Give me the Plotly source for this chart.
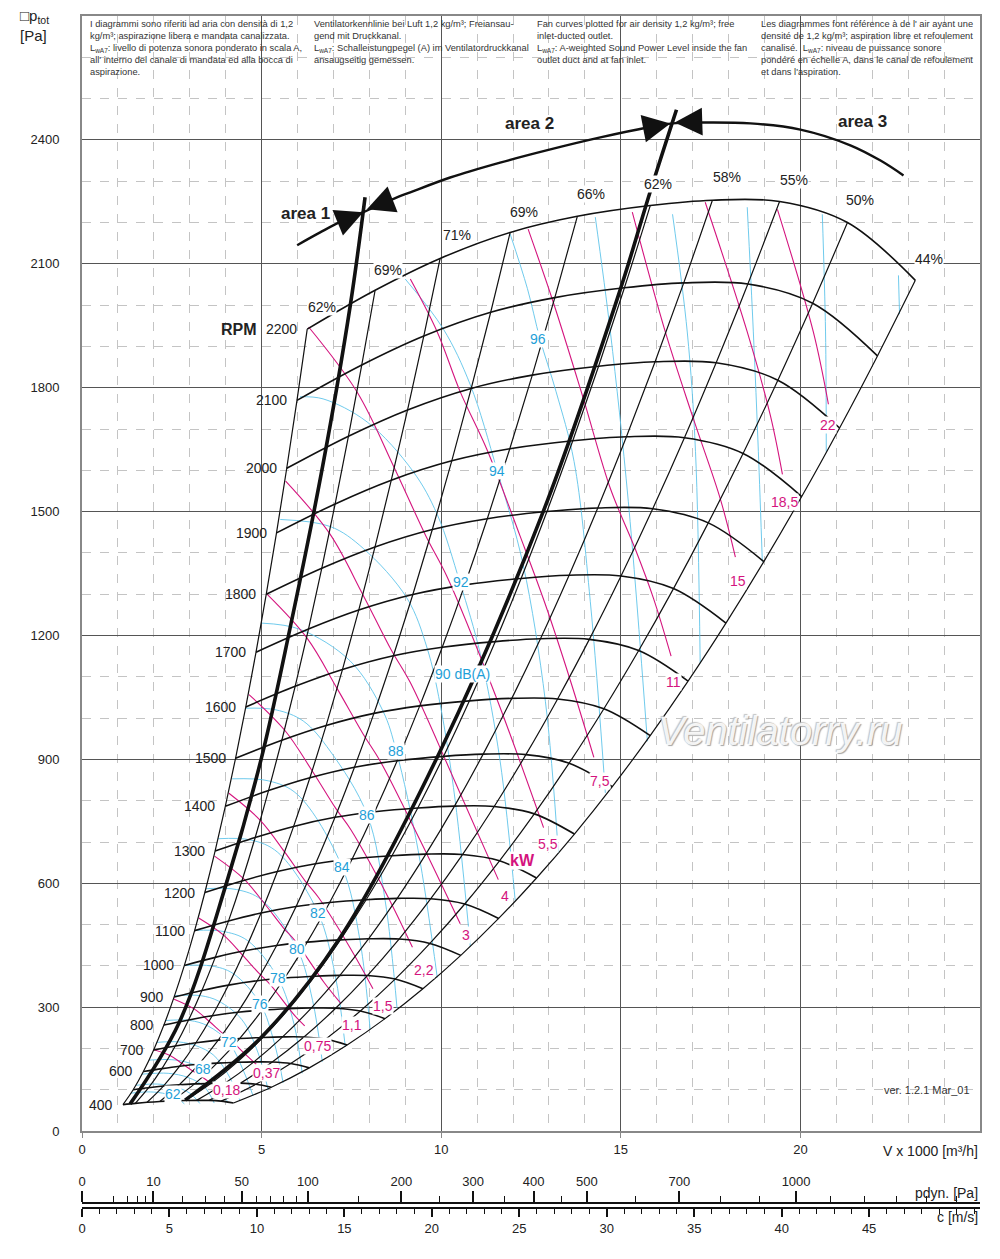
import math
import plotly.graph_objects as go

# ---- fan characteristic at 2200 RPM, read where it meets the efficiency lines
base_rpm = 2200
base_V = [6.27, 8.16, 9.97, 11.92, 13.79, 15.82, 17.55, 19.42, 21.31, 23.20]
base_p = [1942, 2036, 2113, 2176, 2215, 2241, 2254, 2251, 2200, 2060]
rpm_list = [400, 500, 600, 700, 800, 900, 1000, 1100, 1200, 1300, 1400, 1500,
            1600, 1700, 1800, 1900, 2000, 2100, 2200]
rpm_unlabelled = [500]

eff_text = ['62%', '69%', '71%', '69%', '66%', '62%', '58%', '55%', '50%', '44%']
eff_lab_V = [6.68, 8.52, 10.44, 12.31, 14.18, 16.04, 17.96, 19.81, 21.67, 23.57]
eff_lab_p = [1995, 2085, 2169, 2225, 2269, 2293, 2309, 2304, 2254, 2112]

# ---- absorbed power lines [kW]
kw_text = ['0,18', '0,37', '0,75', '1,1', '1,5', '2,2', '3', '4', '5,5', '7,5', '11', '15', '18,5', '22']
kw_V = [
    [2.0, 2.45, 2.78, 3.06, 3.3, 3.55],
    [2.55, 3.12, 3.54, 3.9, 4.13, 4.5, 4.85],
    [3.25, 3.95, 4.47, 4.93, 5.23, 5.93, 6.2],
    [3.69, 4.49, 5.09, 5.6, 5.94, 6.74, 7.2],
    [4.09, 4.97, 5.64, 6.21, 6.59, 7.47, 8.1],
    [4.65, 5.65, 6.41, 7.06, 7.49, 8.49, 9.2],
    [5.15, 6.27, 7.1, 7.83, 8.3, 9.42, 10.53],
    [5.67, 6.9, 7.82, 8.61, 9.14, 10.36, 11.59],
    [6.31, 7.67, 8.69, 9.58, 10.16, 11.52, 12.85],
    [9.14, 9.89, 10.53, 11.27, 12.2, 12.9, 13.6, 14.25],
    [12.42, 13.12, 13.96, 14.71, 15.4, 15.91, 16.4],
    [15.32, 16.24, 17.02, 17.77, 18.19],
    [17.35, 18.52, 19.16, 19.5],
    [19.36, 20.36, 20.78],
]
kw_p = [
    [197, 183, 164, 147, 134, 118],
    [320, 296, 266, 238, 222, 190, 162],
    [516, 474, 426, 382, 356, 279, 255],
    [666, 612, 550, 493, 460, 360, 310],
    [818, 752, 676, 606, 565, 443, 345],
    [1057, 970, 872, 782, 729, 572, 445],
    [1300, 1193, 1072, 961, 896, 703, 502],
    [1574, 1446, 1299, 1165, 1086, 851, 609],
    [1947, 1788, 1607, 1440, 1343, 1053, 735],
    [2063, 1935, 1790, 1651, 1440, 1275, 1090, 905],
    [2184, 2007, 1773, 1556, 1410, 1290, 1150],
    [2225, 1935, 1725, 1531, 1390],
    [2249, 1935, 1734, 1590],
    [2232, 1935, 1760],
]
kw_lab_V = [4.01, 5.13, 6.57, 7.52, 8.38, 9.53, 10.70, 11.78, 12.98, 14.43, 16.46, 18.27, 19.55, 20.78]
kw_lab_p = [99, 140, 205, 256, 304, 389, 476, 570, 696, 848, 1087, 1331, 1524, 1710]

# ---- sound power lines LwA [dB(A)], 62 ... 106 in 2 dB steps
db_V = [
    [1.36, 1.9, 2.35, 2.65, 2.85],
    [1.5, 2.1, 2.6, 3.0, 3.28],
    [1.67, 2.4, 2.95, 3.4, 3.68],
    [1.87, 2.5, 2.95, 3.37, 3.75, 4.07],
    [2.09, 2.7, 3.2, 3.65, 4.05, 4.4],
    [2.34, 3.0, 3.5, 4.09, 4.5, 4.76],
    [2.59, 3.3, 3.8, 4.45, 4.9, 5.18],
    [2.84, 3.6, 4.2, 4.96, 5.35, 5.6],
    [3.15, 3.9, 4.6, 5.46, 5.9, 6.13],
    [3.45, 4.3, 5.0, 5.99, 6.42, 6.69],
    [3.79, 4.7, 5.45, 6.57, 7.05, 7.33],
    [4.18, 5.2, 6.0, 7.24, 7.74, 8.02],
    [4.54, 5.4, 6.16, 6.91, 7.94, 8.44, 8.77],
    [5.01, 6.07, 7.47, 8.38, 8.75, 9.36, 9.89],
    [5.52, 6.91, 7.83, 9.05, 9.61, 9.97, 10.39, 10.81],
    [6.07, 6.71, 7.94, 9.22, 9.89, 10.53, 11.09, 11.64, 12.06],
    [9.0, 10.06, 10.81, 11.56, 12.28, 12.9, 13.26],
    [11.92, 12.4, 12.75, 13.2, 13.7, 14.15, 14.57],
    [14.29, 14.71, 15.21, 15.74],
    [16.44, 16.85, 17.08, 17.21],
    [18.52, 18.69, 18.83, 18.94],
    [20.61, 20.7, 20.72],
    [22.73, 22.76],
]
db_p = [
    [92, 95, 90, 80, 66],
    [111, 114, 107, 92, 67],
    [138, 140, 130, 108, 68],
    [172, 173, 166, 150, 115, 68],
    [215, 216, 206, 185, 140, 74],
    [268, 268, 255, 215, 145, 86],
    [328, 328, 315, 270, 190, 100],
    [401, 400, 382, 309, 215, 117],
    [486, 484, 462, 370, 260, 140],
    [587, 585, 560, 442, 316, 168],
    [708, 705, 675, 529, 377, 204],
    [853, 848, 815, 640, 461, 247],
    [1024, 1020, 993, 920, 766, 558, 298],
    [1230, 1215, 1138, 1017, 920, 679, 372],
    [1481, 1464, 1411, 1290, 1169, 1034, 800, 447],
    [1778, 1773, 1717, 1597, 1493, 1326, 1155, 896, 558],
    [2063, 1942, 1807, 1599, 1372, 1041, 674],
    [2172, 2040, 1918, 1790, 1621, 1283, 819],
    [2213, 1935, 1524, 944],
    [2220, 1935, 1645, 1133],
    [2237, 1935, 1645, 1379],
    [2220, 1935, 1645],
    [2072, 1978],
]
db_text = ['62', '68', '72', '76', '78', '80', '82', '84', '86', '88', '90 dB(A)', '92', '94', '96']
db_lab_V = [2.53, 3.37, 4.09, 4.96, 5.46, 5.99, 6.57, 7.24, 7.94, 8.75, 10.58, 10.56, 11.56, 12.70]
db_lab_p = [89, 150, 215, 309, 370, 442, 529, 640, 766, 920, 1106, 1329, 1599, 1918]

# ---- area limits (thick lines) and the arc with arrows
area1_V = [1.34, 2.7, 4.04, 5.0, 5.79, 6.7, 7.47, 7.88]
area1_p = [66, 262, 606, 905, 1217, 1610, 2000, 2261]
area2_V = [2.87, 5.0, 7.19, 9.97, 12.84, 14.99, 15.82, 16.55]
area2_p = [75, 228, 469, 920, 1500, 2039, 2275, 2473]
arc_V = [5.99, 6.63, 7.27, 7.83, 8.64, 9.14, 10.25, 11.64, 13.04, 14.43, 15.74, 16.44,
         17.13, 18.61, 20.0, 21.39, 22.23, 22.87]
arc_p = [2145, 2176, 2205, 2225, 2256, 2273, 2309, 2345, 2377, 2406, 2430, 2440,
         2442, 2440, 2425, 2387, 2350, 2314]

# ---- secondary scales
pdyn_major = [0, 10, 50, 100, 200, 300, 400, 500, 700, 1000]
pdyn_minor = [2, 4, 6, 8, 20, 30, 40, 60, 70, 80, 90, 150, 250, 350, 450, 600,
              800, 900, 1100, 1200, 1300, 1400, 1500]
c_major = [0, 5, 10, 15, 20, 25, 30, 35, 40, 45]
c_max = 51.34          # c at V = 25000 m3/h
half_rho = 0.6         # pdyn = rho/2 * c^2

MAG = '#d4147e'
CYA = '#5fc4ea'
CYA_T = '#1f9fd8'
NARROW = 'Liberation Sans Narrow, Liberation Sans, Arial Narrow, sans-serif'
SANS = 'Liberation Sans, Arial, sans-serif'

fig = go.Figure()

for xs, ys in zip(db_V, db_p):
    fig.add_trace(go.Scatter(x=xs, y=ys, mode='lines', line=dict(color=CYA, width=0.9, shape='spline'),
                             hoverinfo='skip', showlegend=False))
for xs, ys in zip(kw_V, kw_p):
    fig.add_trace(go.Scatter(x=xs, y=ys, mode='lines', line=dict(color=MAG, width=1.1, shape='spline'),
                             hoverinfo='skip', showlegend=False))

# RPM curves (fan laws from the 2200 RPM curve)
curves = {}
for n in rpm_list:
    s = n / base_rpm
    cv = [v * s for v in base_V]
    cp = [p * s * s for p in base_p]
    curves[n] = (cv, cp)
    fig.add_trace(go.Scatter(x=cv, y=cp, mode='lines', line=dict(color='#111', width=1.6, shape='spline'),
                             hoverinfo='skip', showlegend=False))

# efficiency lines join the same point of every RPM curve
for i in range(len(base_V)):
    fig.add_trace(go.Scatter(x=[curves[n][0][i] for n in rpm_list], y=[curves[n][1][i] for n in rpm_list],
                             mode='lines', line=dict(color='#111', width=1.2, shape='spline'),
                             hoverinfo='skip', showlegend=False))

for xs, ys in [(area1_V, area1_p), (area2_V, area2_p)]:
    fig.add_trace(go.Scatter(x=xs, y=ys, mode='lines', line=dict(color='#111', width=3.6, shape='spline'),
                             hoverinfo='skip', showlegend=False))
fig.add_trace(go.Scatter(x=arc_V, y=arc_p, mode='lines', line=dict(color='#111', width=2.4, shape='spline'),
                         hoverinfo='skip', showlegend=False))

# dummy traces so the two lower scales are drawn
fig.add_trace(go.Scatter(x=[0], y=[0], xaxis='x2', mode='markers', marker=dict(opacity=0),
                         hoverinfo='skip', showlegend=False))
fig.add_trace(go.Scatter(x=[0], y=[0], xaxis='x3', mode='markers', marker=dict(opacity=0),
                         hoverinfo='skip', showlegend=False))

ann = []
for n in rpm_list:
    if n in rpm_unlabelled:
        continue
    ann.append(dict(x=curves[n][0][0], y=curves[n][1][0], text=str(n), showarrow=False,
                    xanchor='right', yanchor='middle', xshift=-8, font=dict(size=14, color='#222', family=SANS)))
ann.append(dict(x=4.37, y=1940, text='<b>RPM</b>', showarrow=False, font=dict(size=16, color='#222', family=SANS)))

for t, x, y in zip(eff_text, eff_lab_V, eff_lab_p):
    ann.append(dict(x=x, y=y, text=t, showarrow=False, bgcolor='white', borderpad=0,
                    font=dict(size=14, color='#222', family=SANS)))
for t, x, y in zip(kw_text, kw_lab_V, kw_lab_p):
    ann.append(dict(x=x, y=y, text=t, showarrow=False, bgcolor='white', borderpad=0,
                    font=dict(size=14, color=MAG, family=SANS)))
ann.append(dict(x=12.26, y=655, text='<b>kW</b>', showarrow=False, bgcolor='white', borderpad=0,
                font=dict(size=16, color=MAG, family=SANS)))
for t, x, y in zip(db_text, db_lab_V, db_lab_p):
    ann.append(dict(x=x, y=y, text=t, showarrow=False, bgcolor='white', borderpad=0,
                    font=dict(size=14, color=CYA_T, family=SANS)))

for t, x, y in [('area 1', 6.21, 2222), ('area 2', 12.45, 2440), ('area 3', 21.73, 2445)]:
    ann.append(dict(x=x, y=y, text='<b>' + t + '</b>', showarrow=False,
                    font=dict(size=17, color='#222', family=SANS)))

# arrow heads on the arc
for tip, tail in [((7.83, 2225), (7.27, 2205)), ((7.93, 2232), (8.64, 2256)),
                  ((16.38, 2440), (15.6, 2427)), ((16.5, 2442), (17.21, 2444))]:
    ann.append(dict(x=tip[0], y=tip[1], ax=tail[0], ay=tail[1], xref='x', yref='y', axref='x', ayref='y',
                    text='', showarrow=True, arrowhead=2, arrowsize=2.3, arrowwidth=2.4, arrowcolor='#111'))

header = [
    (0.17, 'I diagrammi sono riferiti ad aria con densità di 1,2<br>kg/m³; aspirazione libera e mandata canalizzata.'
           '<br>L<sub>wA7</sub>: livello di potenza sonora ponderato in scala A,<br>all\' interno del canale di mandata ed alla bocca di'
           '<br>aspirazione.'),
    (6.41, 'Ventilatorkennlinie bei Luft 1,2 kg/m³; Freiansau-<br>gend mit Druckkanal.'
           '<br>L<sub>wA7</sub>: Schalleistungpegel (A) im Ventilatordruckkanal<br>ansaugseitig gemessen.'),
    (12.62, 'Fan curves plotted for air density 1,2 kg/m³; free<br>inlet-ducted outlet.'
            '<br>L<sub>wA7</sub>: A-weighted Sound Power Level inside the fan<br>outlet duct and at fan inlet.'),
    (18.86, 'Les diagrammes font référence à de l\' air ayant une<br>densité de 1,2 kg/m³; aspiration libre et refoulement'
            '<br>canalisé.  L<sub>wA7</sub>: niveau de puissance sonore<br>pondéré en échelle A, dans le canal de refoulement'
            '<br>et dans l\'aspiration.'),
]
for x, t in header:
    ann.append(dict(x=x, y=2700, yshift=-1, text=t, showarrow=False, xanchor='left', yanchor='top', align='left',
                    font=dict(size=9.3, color='#333', family=SANS)))

ann.append(dict(x=24.79, y=99, text='ver. 1.2.1 Mar_01', showarrow=False, xanchor='right',
                font=dict(size=11, color='#333', family=NARROW)))
ann.append(dict(x=19.44, y=969, text='<i>Ventilatorry.ru</i>', showarrow=False,
                font=dict(size=40, color='rgba(255,255,255,0.9)', family=SANS,
                          shadow='1px 1px 1px #9a9a9a, -1px -1px 1px #bdbdbd')))

ann.append(dict(xref='paper', yref='paper', x=-0.071, y=1.009, xanchor='left', yanchor='top', align='left',
                text='□p<sub>tot</sub><br>[Pa]', showarrow=False, font=dict(size=15, color='#222', family=SANS)))
ann.append(dict(xref='paper', yref='paper', x=1.0, y=0.0564, xanchor='right', yanchor='middle',
                text='V x 1000 [m³/h]', showarrow=False, font=dict(size=14, color='#222', family=NARROW)))
ann.append(dict(xref='paper', yref='paper', x=1.0, y=0.0215, xanchor='right', yanchor='middle',
                text='pdyn. [Pa]', showarrow=False, font=dict(size=14, color='#222', family=NARROW)))
ann.append(dict(xref='paper', yref='paper', x=1.0, y=0.0017, xanchor='right', yanchor='middle',
                text='c [m/s]', showarrow=False, font=dict(size=14, color='#222', family=NARROW)))

# the page body adds 8 px on the left and top, so the figure is sized and offset for that
fig.update_layout(
    width=992, height=1251,
    margin=dict(l=74, r=20, t=6, b=40),
    plot_bgcolor='white', paper_bgcolor='white',
    showlegend=False,
    annotations=ann,
    xaxis=dict(range=[0, 25], tickvals=[0, 5, 10, 15, 20], ticks='outside', ticklen=5, tickcolor='#888',
               showgrid=True, gridcolor='#555', gridwidth=1, zeroline=False,
               showline=True, linecolor='#888', linewidth=2, mirror=True,
               tickfont=dict(size=13, color='#222', family=NARROW),
               minor=dict(dtick=1, showgrid=True, gridcolor='#c4c4c4', griddash='dash', gridwidth=1)),
    yaxis=dict(range=[0, 2700], domain=[0.07303, 1], tickvals=list(range(0, 2401, 300)), ticks='',
               showgrid=True, gridcolor='#555', gridwidth=1, zeroline=False,
               showline=True, linecolor='#888', linewidth=2, mirror=True, ticklabelstandoff=18,
               tickfont=dict(size=13, color='#222', family=NARROW),
               minor=dict(dtick=100, showgrid=True, gridcolor='#c4c4c4', griddash='dash', gridwidth=1)),
    xaxis2=dict(overlaying='x', anchor='free', position=0.01303, side='top', range=[0, c_max],
                tickvals=[math.sqrt(v / half_rho) for v in pdyn_major], ticktext=[str(v) for v in pdyn_major],
                ticks='outside', ticklen=11, tickwidth=1.5, tickcolor='#111',
                minor=dict(tickvals=[math.sqrt(v / half_rho) for v in pdyn_minor], ticks='outside',
                           ticklen=6, tickwidth=1, tickcolor='#111'),
                showgrid=False, zeroline=False, showline=True, linecolor='#111', linewidth=2,
                tickfont=dict(size=13, color='#222', family=NARROW)),
    xaxis3=dict(overlaying='x', anchor='free', position=0.00888, side='bottom', range=[0, c_max],
                tickvals=c_major, ticks='outside', ticklen=8, tickwidth=1.5, tickcolor='#111',
                minor=dict(dtick=1, ticks='outside', ticklen=5, tickwidth=1, tickcolor='#111'),
                showgrid=False, zeroline=False, showline=True, linecolor='#111', linewidth=2,
                tickfont=dict(size=13, color='#222', family=NARROW)),
)

fig.write_html('out.html')
